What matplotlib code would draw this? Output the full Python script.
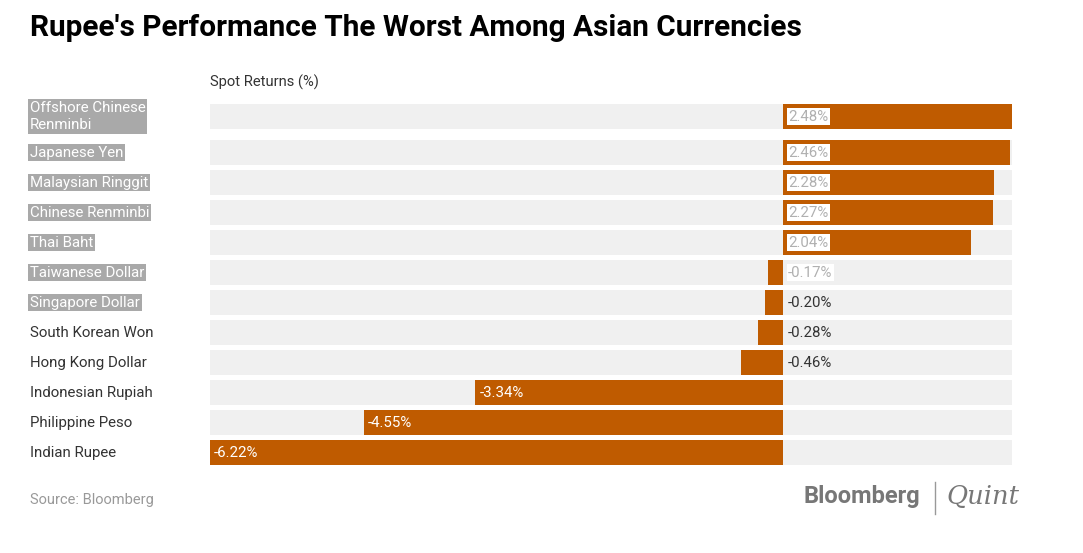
import numpy as np
import matplotlib.pyplot as plt

currencies = [
    "Offshore Chinese\nRenminbi",
    "Japanese Yen",
    "Malaysian Ringgit",
    "Chinese Renminbi",
    "Thai Baht",
    "Taiwanese Dollar",
    "Singapore Dollar",
    "South Korean Won",
    "Hong Kong Dollar",
    "Indonesian Rupiah",
    "Philippine Peso",
    "Indian Rupee",
]
returns = [2.48, 2.46, 2.28, 2.27, 2.04, -0.17, -0.20, -0.28, -0.46, -3.34, -4.55, -6.22]

plt.rcParams["font.family"] = ["Roboto", "DejaVu Sans"]

orange = "#bf5b00"
bg_grey = "#f0f0f0"
dark = "#333333"

fig = plt.figure(figsize=(10.83, 5.53), dpi=100)
W, H = 1083, 553
ax = fig.add_axes([210 / W, 1 - 470 / H, (1012 - 210) / W, (470 - 100) / H])

# first row sits a bit higher because its label wraps onto two lines
ypos = np.arange(len(returns), dtype=float)
ypos[0] = -0.2
xmin, xmax = min(returns), max(returns)

ax.barh(ypos, xmax - xmin, left=xmin, height=25 / 30, color=bg_grey, zorder=1)
ax.barh(ypos, returns, height=25 / 30, color=orange, zorder=2)

ax.set_xlim(xmin, xmax)
ax.set_ylim(11.583, -0.75)
ax.axis("off")

n_highlight = 7
for i, (name, val, y) in enumerate(zip(currencies, returns, ypos)):
    # category label on the left (first few look selected/highlighted)
    if i < n_highlight:
        ax.annotate(name, xy=(0, y), xycoords=("figure fraction", "data"),
                    xytext=(30 * 0.72, 0), textcoords="offset points",
                    color="white", fontsize=10.8, va="center", ha="left", linespacing=1.3,
                    bbox=dict(facecolor="#a9a9a9", edgecolor="none", pad=1.2))
    else:
        ax.annotate(name, xy=(0, y), xycoords=("figure fraction", "data"),
                    xytext=(30 * 0.72, 0), textcoords="offset points",
                    color=dark, fontsize=10.8, va="center", ha="left")

    label = f"{val:.2f}%"
    if val > 0 or i == 5:
        ax.annotate(label, xy=(0, y), xytext=(3.5, 0), textcoords="offset points",
                    color="#b0b0b0", fontsize=10.8, va="center", ha="left", zorder=5,
                    bbox=dict(facecolor="white", edgecolor="none", pad=1.2))
    elif val > -1:
        ax.annotate(label, xy=(0, y), xytext=(3.5, 0), textcoords="offset points",
                    color=dark, fontsize=10.8, va="center", ha="left", zorder=5)
    else:
        ax.annotate(label, xy=(val, y), xytext=(3, 0), textcoords="offset points",
                    color="white", fontsize=10.8, va="center", ha="left", zorder=5)

fig.text(30 / W, 1 - 28 / H, "Rupee's Performance The Worst Among Asian Currencies",
         fontsize=21.4, fontweight="bold", color="black", va="center", ha="left")
fig.text(210 / W, 1 - 82 / H, "Spot Returns (%)", fontsize=10.6, color=dark,
         va="center", ha="left")
fig.text(30 / W, 1 - 500 / H, "Source: Bloomberg", fontsize=10.5, color="#999999",
         va="center", ha="left")

fig.text(920 / W, 1 - 497 / H, "Bloomberg", fontsize=17, fontweight="bold",
         color="#777777", va="center", ha="right")
fig.add_artist(plt.Line2D([935 / W, 935 / W], [1 - 482 / H, 1 - 514 / H],
                          color="#999999", lw=1))
fig.text(946 / W, 1 - 497 / H, "Quint", fontsize=18.5, fontstyle="italic",
         family="DejaVu Serif", color="#777777", va="center", ha="left")

fig.savefig("out.png", dpi=100)
